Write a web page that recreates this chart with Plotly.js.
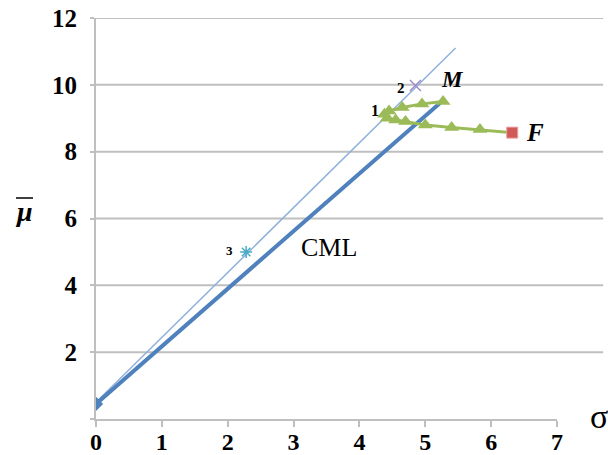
<!DOCTYPE html>
<html><head><meta charset="utf-8">
<script src="https://cdn.plot.ly/plotly-3.0.1.min.js"></script>
<style>html,body{margin:0;padding:0;background:#fff}#c{width:608px;height:455px}</style>
</head><body><div id="c"></div>
<script>
// CML (thick) from risk-free point to M
var cmlX = [0, 5.22];
var cmlY = [0.45, 9.45];
// thin line through points 3 and 2
var thinX = [0, 5.46];
var thinY = [0.5, 11.1];
// frontier (green) from M through point 1 to F
var frontX = [5.27, 4.95, 4.65, 4.45, 4.38, 4.42, 4.55, 4.7, 5.0, 5.4, 5.83];
var frontY = [9.5, 9.43, 9.32, 9.22, 9.12, 9.0, 8.95, 8.9, 8.8, 8.72, 8.66];
var fX = [6.32], fY = [8.57];
var p2X = [4.85], p2Y = [9.98];
var p3X = [2.28], p3Y = [5.0];
var xTicks = [0,1,2,3,4,5,6,7];
var yTicks = [0,2,4,6,8,10,12];
var yTickText = ['', '2', '4', '6', '8', '10', '12'];

var serif = 'Liberation Serif, Times New Roman, serif';
var grid = '#bfbfbf';

var traces = [
  {x: thinX, y: thinY, mode: 'lines', line: {color: '#8fb0db', width: 1.5}, hoverinfo: 'skip'},
  {x: cmlX, y: cmlY, mode: 'lines', line: {color: '#4f81bd', width: 4}, hoverinfo: 'skip'},
  {x: [cmlX[0]], y: [cmlY[0]], mode: 'markers', marker: {symbol: 'diamond', size: 11, color: '#4f81bd'}},
  {x: frontX.concat(fX), y: frontY.concat(fY), mode: 'lines', line: {color: '#9bbb59', width: 3}},
  {x: frontX, y: frontY, mode: 'markers', marker: {symbol: 'triangle-up', size: 13, color: '#9bbb59'}},
  {x: fX, y: fY, mode: 'markers', marker: {symbol: 'square', size: 11, color: '#d05a57', line: {color: '#eaa0a0', width: 1}}},
  {x: p2X, y: p2Y, mode: 'markers', marker: {symbol: 'x-thin-open', size: 11, color: '#a08cc8', line: {width: 1.5, color: '#a08cc8'}}},
  {x: p3X, y: p3Y, mode: 'markers', marker: {symbol: 'asterisk-open', size: 10, color: '#4bacc6', line: {width: 1.5, color: '#4bacc6'}}}
];

var shapes = yTicks.filter(function(v){return v>0;}).map(function(v){
  return {type: 'line', xref: 'paper', yref: 'y', x0: 0, x1: 1.1, y0: v, y1: v, line: {color: grid, width: 2}, layer: 'below'};
});
// overline of the mu symbol
shapes.push({type: 'line', xref: 'paper', yref: 'paper', x0: (16-96)/461, x1: (33-96)/461, y0: (419-198)/401, y1: (419-198)/401,
             line: {color: '#000', width: 1.5}});

function ann(text, x, y, size, extra) {
  var a = {text: text, x: x, y: y, xref: 'x', yref: 'y', showarrow: false, xanchor: 'center', yanchor: 'middle',
           font: {family: serif, size: size, color: '#000'}};
  for (var k in extra) a[k] = extra[k];
  return a;
}

var layout = {
  width: 608, height: 455,
  margin: {l: 96, r: 51, t: 18, b: 36},
  paper_bgcolor: '#fff', plot_bgcolor: '#fff',
  showlegend: false,
  xaxis: {range: [0, 7], tickvals: xTicks, showgrid: false, zeroline: false, showline: true, linecolor: grid, linewidth: 2,
          ticks: 'outside', ticklen: 6, tickwidth: 2, tickcolor: grid,
          tickfont: {family: serif, size: 24, color: '#000', weight: 'bold'}, ticklabelstandoff: -6},
  yaxis: {range: [0, 12], tickvals: yTicks, ticktext: yTickText, showgrid: false, zeroline: false, showline: true, linecolor: grid, linewidth: 2,
          ticks: 'outside', ticklen: 4, tickwidth: 2, tickcolor: grid,
          tickfont: {family: serif, size: 25, color: '#000', weight: 'bold'}, ticklabelstandoff: 8},
  shapes: shapes,
  annotations: [
    ann('<b><i>M</i></b>', 5.41, 10.17, 23),
    ann('<b><i>F</i></b>', 6.67, 8.56, 25),
    ann('<b>2</b>', 4.63, 9.9, 15),
    ann('<b>1</b>', 4.24, 9.22, 16),
    ann('<b>3</b>', 2.03, 5.03, 13),
    ann('CML', 3.54, 5.12, 26),
    {text: 'σ', xref: 'paper', yref: 'paper', x: (599-96)/461, y: (455-36-416)/401, showarrow: false, xanchor: 'center', yanchor: 'middle',
     font: {family: serif, size: 34, color: '#000'}},
    {text: '<b><i>μ</i></b>', xref: 'paper', yref: 'paper', x: (24-96)/461, y: (419-211)/401, showarrow: false, xanchor: 'center', yanchor: 'middle',
     font: {family: serif, size: 28, color: '#000'}}
  ]
};

Plotly.newPlot('c', traces, layout, {staticPlot: true, displayModeBar: false});
</script>
</body></html>
